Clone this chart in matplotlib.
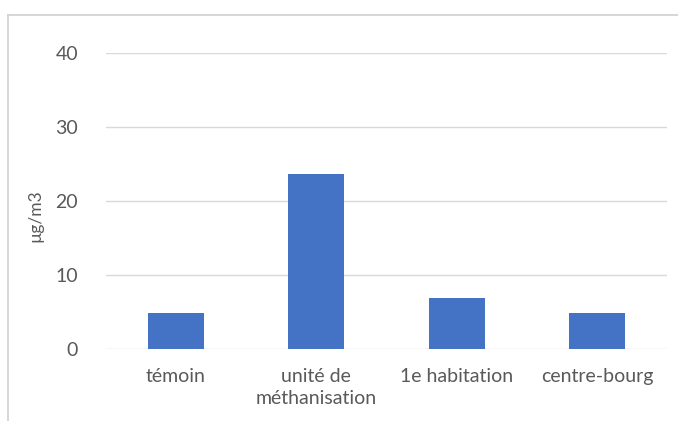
import matplotlib
matplotlib.use("Agg")
import matplotlib.pyplot as plt
from matplotlib.lines import Line2D

categories = ["témoin", "unité de\nméthanisation", "1e habitation", "centre-bourg"]
values = [4.9, 23.6, 6.9, 4.9]
y_ticks = [0, 10, 20, 30, 40]

text_color = "#595959"
plt.rcParams["font.family"] = ["Lato", "DejaVu Sans"]

fig = plt.figure(figsize=(6.78, 4.21), dpi=100)
ax = fig.add_axes([0.156, 0.171, 0.828, 0.703])

x = list(range(len(categories)))
ax.bar(x, values, width=0.4, color="#4472C4", zorder=3)

ax.set_xlim(-0.5, len(categories) - 0.5)
ax.set_ylim(0, 40)
ax.set_yticks(y_ticks)
ax.set_xticks(x)
ax.set_xticklabels(categories, fontsize=14, color=text_color, linespacing=1.35)
ax.tick_params(axis="y", length=0, pad=20, labelsize=14, labelcolor=text_color)
ax.tick_params(axis="x", length=0, pad=14)
ax.grid(axis="y", color="#D9D9D9", linewidth=1, zorder=0)
for s in ax.spines.values():
    s.set_visible(False)
ax.set_ylabel("µg/m3", fontsize=12.5, color=text_color)
ax.yaxis.set_label_coords(-0.112, 0.45)

# chart frame (cut at right and bottom)
fig.add_artist(Line2D([8 / 678, 8 / 678], [0, 1 - 15 / 421], transform=fig.transFigure, color="#D0D0D0", lw=1.2))
fig.add_artist(Line2D([8 / 678, 1], [1 - 15 / 421, 1 - 15 / 421], transform=fig.transFigure, color="#D0D0D0", lw=1.2))

fig.savefig("out.png", dpi=100)
